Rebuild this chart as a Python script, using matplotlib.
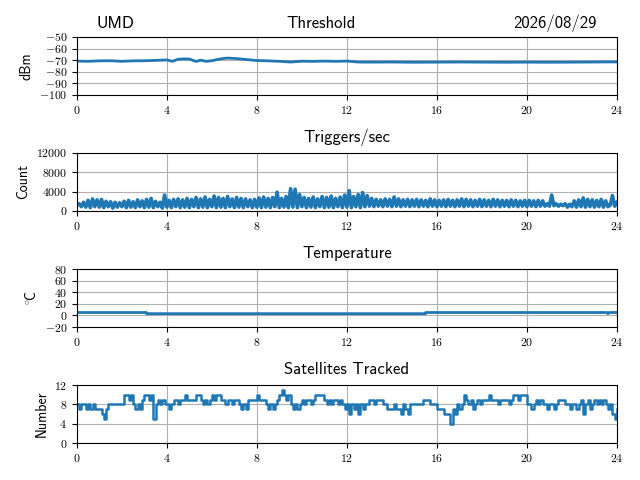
import matplotlib
matplotlib.use("Agg")
import matplotlib.pyplot as plt
from matplotlib.ticker import FuncFormatter
import numpy as np

plt.rcParams['font.family'] = ['cmss10', 'DejaVu Sans']
plt.rcParams['mathtext.fontset'] = 'cm'
plt.rcParams['axes.unicode_minus'] = False

site = "UMD"
date_label = "2026/08/29"
titles = ["Threshold", "Triggers/sec", "Temperature", "Satellites Tracked"]
ylabels = ["dBm", "Count", r"$^{\circ}\!$C", "Number"]
xticks = [0, 4, 8, 12, 16, 20, 24]

thr_t = [0, 0.5, 1, 1.5, 2, 2.5, 3, 3.5, 4, 4.25, 4.5, 4.75, 5, 5.3, 5.5, 5.75, 6, 6.25,
         6.5, 6.7, 7, 7.25, 7.5, 8, 8.5, 9, 9.5, 10, 10.5, 11, 11.5, 12, 12.25, 12.5,
         13, 14, 15, 16, 17, 18, 19, 20, 21, 22, 23, 24]
thr_v = [-70.8, -71, -70.6, -70.5, -71, -70.6, -70.5, -70.2, -69.8, -71, -69.2, -68.9, -69, -71.1,
         -70, -71, -70.5, -69.4, -68.6, -68.2, -68.5, -68.9, -69.4, -70.3, -70.6, -71, -71.6,
         -70.9, -71, -70.8, -71, -70.8, -71.2, -71.6, -71.7, -71.6, -71.8, -71.7, -71.6,
         -71.7, -71.8, -71.7, -71.8, -71.7, -71.6, -71.5]

trig_v = [
    1200, 1500, 900, 1800, 800, 2200, 700, 2500, 900, 2300,
    800, 2400, 700, 2000, 900, 1900, 600, 1800, 800, 1700,
    900, 2000, 700, 2200, 800, 1900, 700, 2300, 900, 2100,
    700, 2400, 800, 2600, 700, 2000, 900, 1800, 600, 3300,
    800, 2200, 700, 2400, 900, 2500, 700, 2300, 800, 2600,
    700, 2400, 900, 2800, 700, 2500, 800, 2900, 700, 2400,
    900, 3100, 700, 2800, 800, 2600, 700, 3000, 900, 2500,
    700, 2800, 800, 2600, 700, 2500, 900, 2300, 700, 2400,
    800, 2700, 700, 2900, 800, 2600, 700, 2800, 900, 3900,
    700, 2600, 800, 3000, 700, 4600, 800, 4500, 700, 3400,
    900, 2800, 700, 2600, 800, 2900, 700, 2500, 900, 3000,
    700, 2800, 800, 3100, 700, 2600, 900, 2900, 700, 3300,
    800, 4200, 700, 3000, 900, 3400, 700, 3800, 900, 3200,
    1000, 2600, 900, 2400, 1000, 2300, 900, 2500, 1000, 2400,
    900, 2900, 1000, 2500, 900, 2300, 1000, 2400, 900, 2300,
    1000, 2400, 900, 2300, 1000, 2200, 900, 2500, 1000, 2300,
    900, 2200, 1000, 2300, 900, 2400, 1000, 2200, 900, 2300,
    1000, 2500, 900, 2400, 1000, 2300, 900, 2200, 1000, 2400,
    900, 2300, 1000, 2200, 900, 2400, 1000, 2300, 900, 2200,
    1000, 2200, 900, 2300, 1000, 2200, 900, 2100, 1000, 2200,
    900, 2200, 1000, 2100, 900, 2200, 1000, 2100, 1000, 1500,
    1000, 3300, 1100, 1500, 1000, 1400, 1100, 1500, 800, 1400,
    900, 2100, 800, 2300, 900, 2700, 800, 2400, 900, 2300,
    800, 2200, 900, 2400, 800, 2100, 900, 1200, 3200, 1000,
    1800]

temp_t = [0, 3.1, 3.1, 15.5, 15.5, 23.55, 23.6, 23.65, 24]
temp_v = [5, 5, 3, 3, 5, 5, 3, 5, 5]

sat_v = [
    8, 7, 8, 8, 7, 8, 7, 8, 7, 7,
    7, 6, 5, 7, 8, 8, 8, 8, 8, 8,
    8, 10, 10, 9, 10, 8, 7, 8, 7, 9,
    10, 10, 9, 10, 5, 8, 9, 8, 9, 8,
    8, 7, 8, 9, 9, 8, 9, 9, 10, 9,
    9, 9, 9, 10, 10, 9, 8, 9, 8, 9,
    10, 9, 10, 10, 9, 9, 8, 9, 9, 8,
    9, 9, 8, 7, 8, 7, 9, 9, 9, 9,
    10, 9, 9, 9, 8, 7, 8, 7, 8, 9,
    10, 11, 10, 9, 10, 8, 7, 8, 7, 8,
    9, 8, 9, 9, 8, 9, 10, 10, 10, 10,
    9, 8, 9, 8, 9, 9, 8, 9, 8, 7,
    8, 6, 8, 7, 8, 6, 8, 7, 8, 8,
    9, 9, 8, 9, 9, 9, 8, 8, 7, 7,
    7, 8, 7, 7, 6, 8, 7, 6, 8, 8,
    8, 8, 8, 8, 9, 9, 9, 8, 8, 8,
    7, 7, 7, 6, 6, 6, 4, 7, 6, 8,
    7, 8, 10, 9, 8, 9, 7, 8, 9, 8,
    9, 9, 9, 10, 9, 9, 9, 8, 9, 9,
    9, 9, 8, 9, 10, 10, 9, 10, 10, 10,
    8, 8, 7, 8, 9, 8, 9, 8, 8, 7,
    8, 8, 7, 8, 9, 9, 9, 8, 8, 7,
    8, 8, 7, 8, 9, 6, 8, 9, 7, 8,
    9, 8, 9, 8, 9, 8, 7, 8, 6, 5,
    7]

trig_t = np.linspace(0, 24, len(trig_v))
sat_t = np.linspace(0, 24, len(sat_v))

yticks = [[-100, -90, -80, -70, -60, -50], [0, 4000, 8000, 12000],
          [-20, 0, 20, 40, 60, 80], [0, 4, 8, 12]]
ylims = [(-100, -50), (0, 12000), (-20, 80), (0, 12)]

color = '#1f77b4'
fig, axes = plt.subplots(4, 1, figsize=(6.4, 4.8), dpi=100)
fig.subplots_adjust(left=0.12, right=0.964, top=0.923, bottom=0.077, hspace=1.0)

math_fmt = FuncFormatter(lambda v, p: r'$%g$' % v)

axes[0].plot(thr_t, thr_v, color=color, lw=2.0)
axes[1].plot(trig_t, trig_v, color=color, lw=2.6)
axes[2].plot(temp_t, temp_v, color=color, lw=2)
axes[3].plot(sat_t, sat_v, color=color, lw=1.8, drawstyle='steps-post')

for i, ax in enumerate(axes):
    ax.set_xlim(0, 24)
    ax.set_ylim(*ylims[i])
    ax.set_xticks(xticks)
    ax.set_yticks(yticks[i])
    ax.xaxis.set_major_formatter(math_fmt)
    ax.yaxis.set_major_formatter(math_fmt)
    ax.grid(True)
    ax.set_axisbelow(True)
    if i > 0:
        ax.set_title(titles[i], fontsize=12, pad=8)
    ax.set_ylabel(ylabels[i], fontsize=10)
    ax.tick_params(labelsize=8.5)

ty = 1.0 + 8.5 / 58
axes[0].text(0.037, ty, site, transform=axes[0].transAxes, fontsize=12,
             ha='left', va='baseline')
axes[0].text(0.452, ty, titles[0], transform=axes[0].transAxes, fontsize=12,
             ha='center', va='baseline')
axes[0].text(0.963, ty, date_label, transform=axes[0].transAxes, fontsize=12,
             ha='right', va='baseline')

fig.savefig("out.png", dpi=100)
